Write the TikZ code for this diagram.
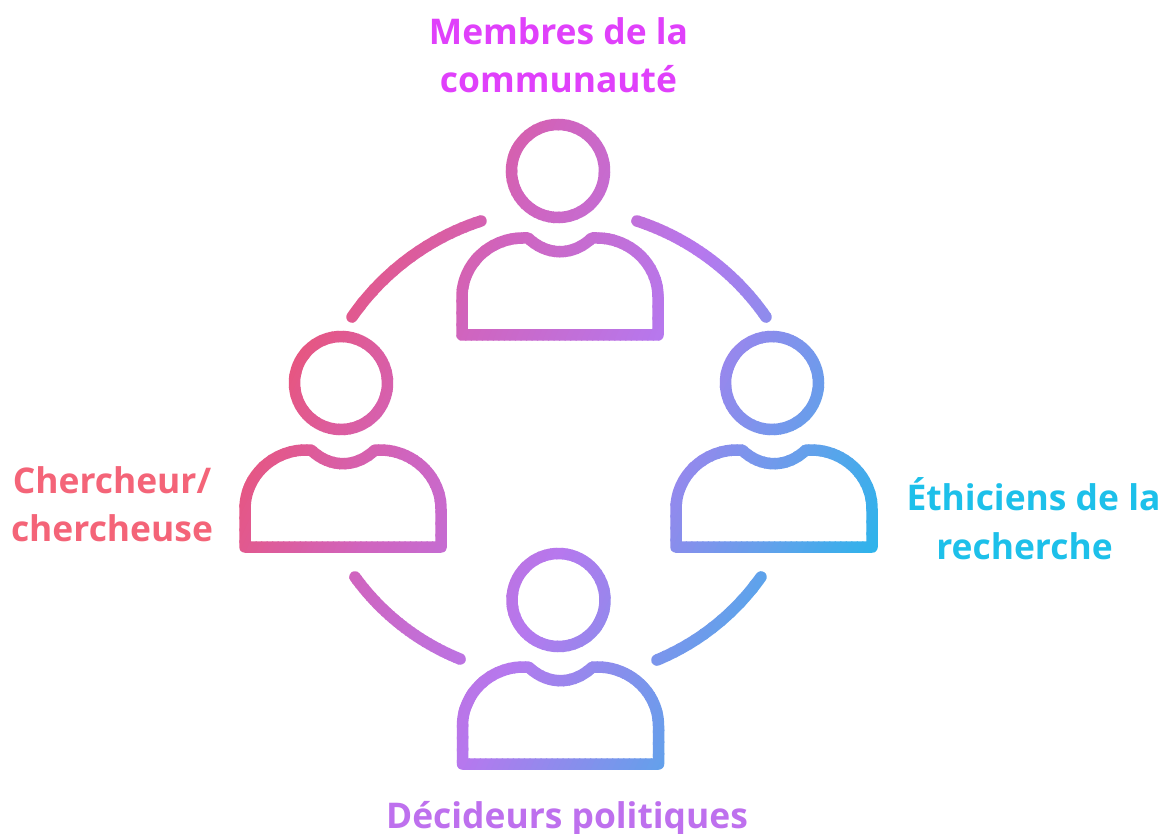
\documentclass[tikz,border=0pt]{standalone}
\usepackage{fontspec}
\setmainfont{Open Sans}
\newcommand{\personshape}[2]{%
  \draw (#1,#2) circle (46.5);
  \draw (#1+2,#2+164) -- ++(-98,0) -- ++(0,-38)
    .. controls +(0,-33) and +(-33,0) .. ++(61,-59) -- ++(5,0)
    .. controls +(9,8.5) and +(-12,0) .. ++(32,13.7)
    .. controls +(12,0) and +(-9,8.5) .. ++(32,-13.7) -- ++(5,0)
    .. controls +(33,0) and +(0,-33) .. ++(61,59) -- ++(0,38) -- cycle;}
\newcommand{\allstrokes}{%
  \personshape{558}{171}%
  \personshape{341}{383}%
  \personshape{772}{383}%
  \personshape{558.5}{600}%
  \draw (tla) to[bend left=18.7,looseness=0.87] (tlb);
  \draw (tra) to[bend left=18.7,looseness=0.87] (trb);
  \draw (bra) to[bend left=16,looseness=0.87] (brb);
  \draw (bla) to[bend left=16,looseness=0.87] (blb);}
\newcommand{\stopmix}[5]{(\s<-147 ? #1+(#2-#1)/153*(\s+300) : (\s<34 ? #2+(#3-#2)/181*(\s+147) : (\s<216 ? #3+(#4-#3)/182*(\s-34) : #4+(#5-#4)/104*(\s-216))))/255}
\definecolor{membres}{RGB}{224,64,251}
\definecolor{chercheur}{RGB}{244,100,120}
\definecolor{ethiciens}{RGB}{29,192,234}
\definecolor{decideurs}{RGB}{190,112,238}
\tikzset{
  lbl/.style={font=\fontsize{35.4}{40}\selectfont\bfseries,anchor=base,inner sep=0pt},
  gradstroke/.style={line width=11.5pt,line join=round,line cap=round}}
\begin{document}
\begin{tikzpicture}[x=1pt,y=-1pt]
  \useasboundingbox (0,0) rectangle (1168,834);
  \fill[white] (0,0) rectangle (1168,834);
  \coordinate (tla) at (352,317);
  \coordinate (tlb) at (481,221);
  \coordinate (tra) at (637,221);
  \coordinate (trb) at (766,317);
  \coordinate (bra) at (761,577);
  \coordinate (brb) at (657,660);
  \coordinate (bla) at (460,659);
  \coordinate (blb) at (355,577);
  \foreach \s in {-320,-315,...,340}{
    \pgfmathsetmacro{\rr}{\stopmix{232}{208}{182}{100}{45}}
    \pgfmathsetmacro{\gg}{\stopmix{85}{100}{120}{160}{180}}
    \pgfmathsetmacro{\bb}{\stopmix{125}{190}{238}{235}{235}}
    \definecolor{bandc}{rgb}{\rr,\gg,\bb}
    \pgfmathsetmacro{\ax}{584+0.906*\s+0.4226*1000}
    \pgfmathsetmacro{\ay}{417+0.4226*\s-0.906*1000}
    \pgfmathsetmacro{\bx}{584+0.906*\s-0.4226*1000}
    \pgfmathsetmacro{\by}{417+0.4226*\s+0.906*1000}
    \begin{scope}[gradstroke,draw=bandc]
      \clip (\ax,\ay) -- (\bx,\by) -- ++(5.44,2.54) -- ++(845.2,-1812) -- cycle;
      \allstrokes
    \end{scope}
  }
  \node[lbl,text=membres] (m1) at (558.5,45) {Membres de la};
  \node[lbl,text=membres] (m2) at (558.5,93) {communauté};
  \node[lbl,text=chercheur] (c1) at (112,493) {Chercheur/};
  \node[lbl,text=chercheur] (c2) at (112,541) {chercheuse};
  \node[lbl,text=ethiciens] (e1) at (1033.5,510) {Éthiciens de la};
  \node[lbl,text=ethiciens] (e2) at (1024.5,559) {recherche};
  \node[lbl,text=decideurs] (d1) at (567,828) {Décideurs politiques};
\end{tikzpicture}
\end{document}
